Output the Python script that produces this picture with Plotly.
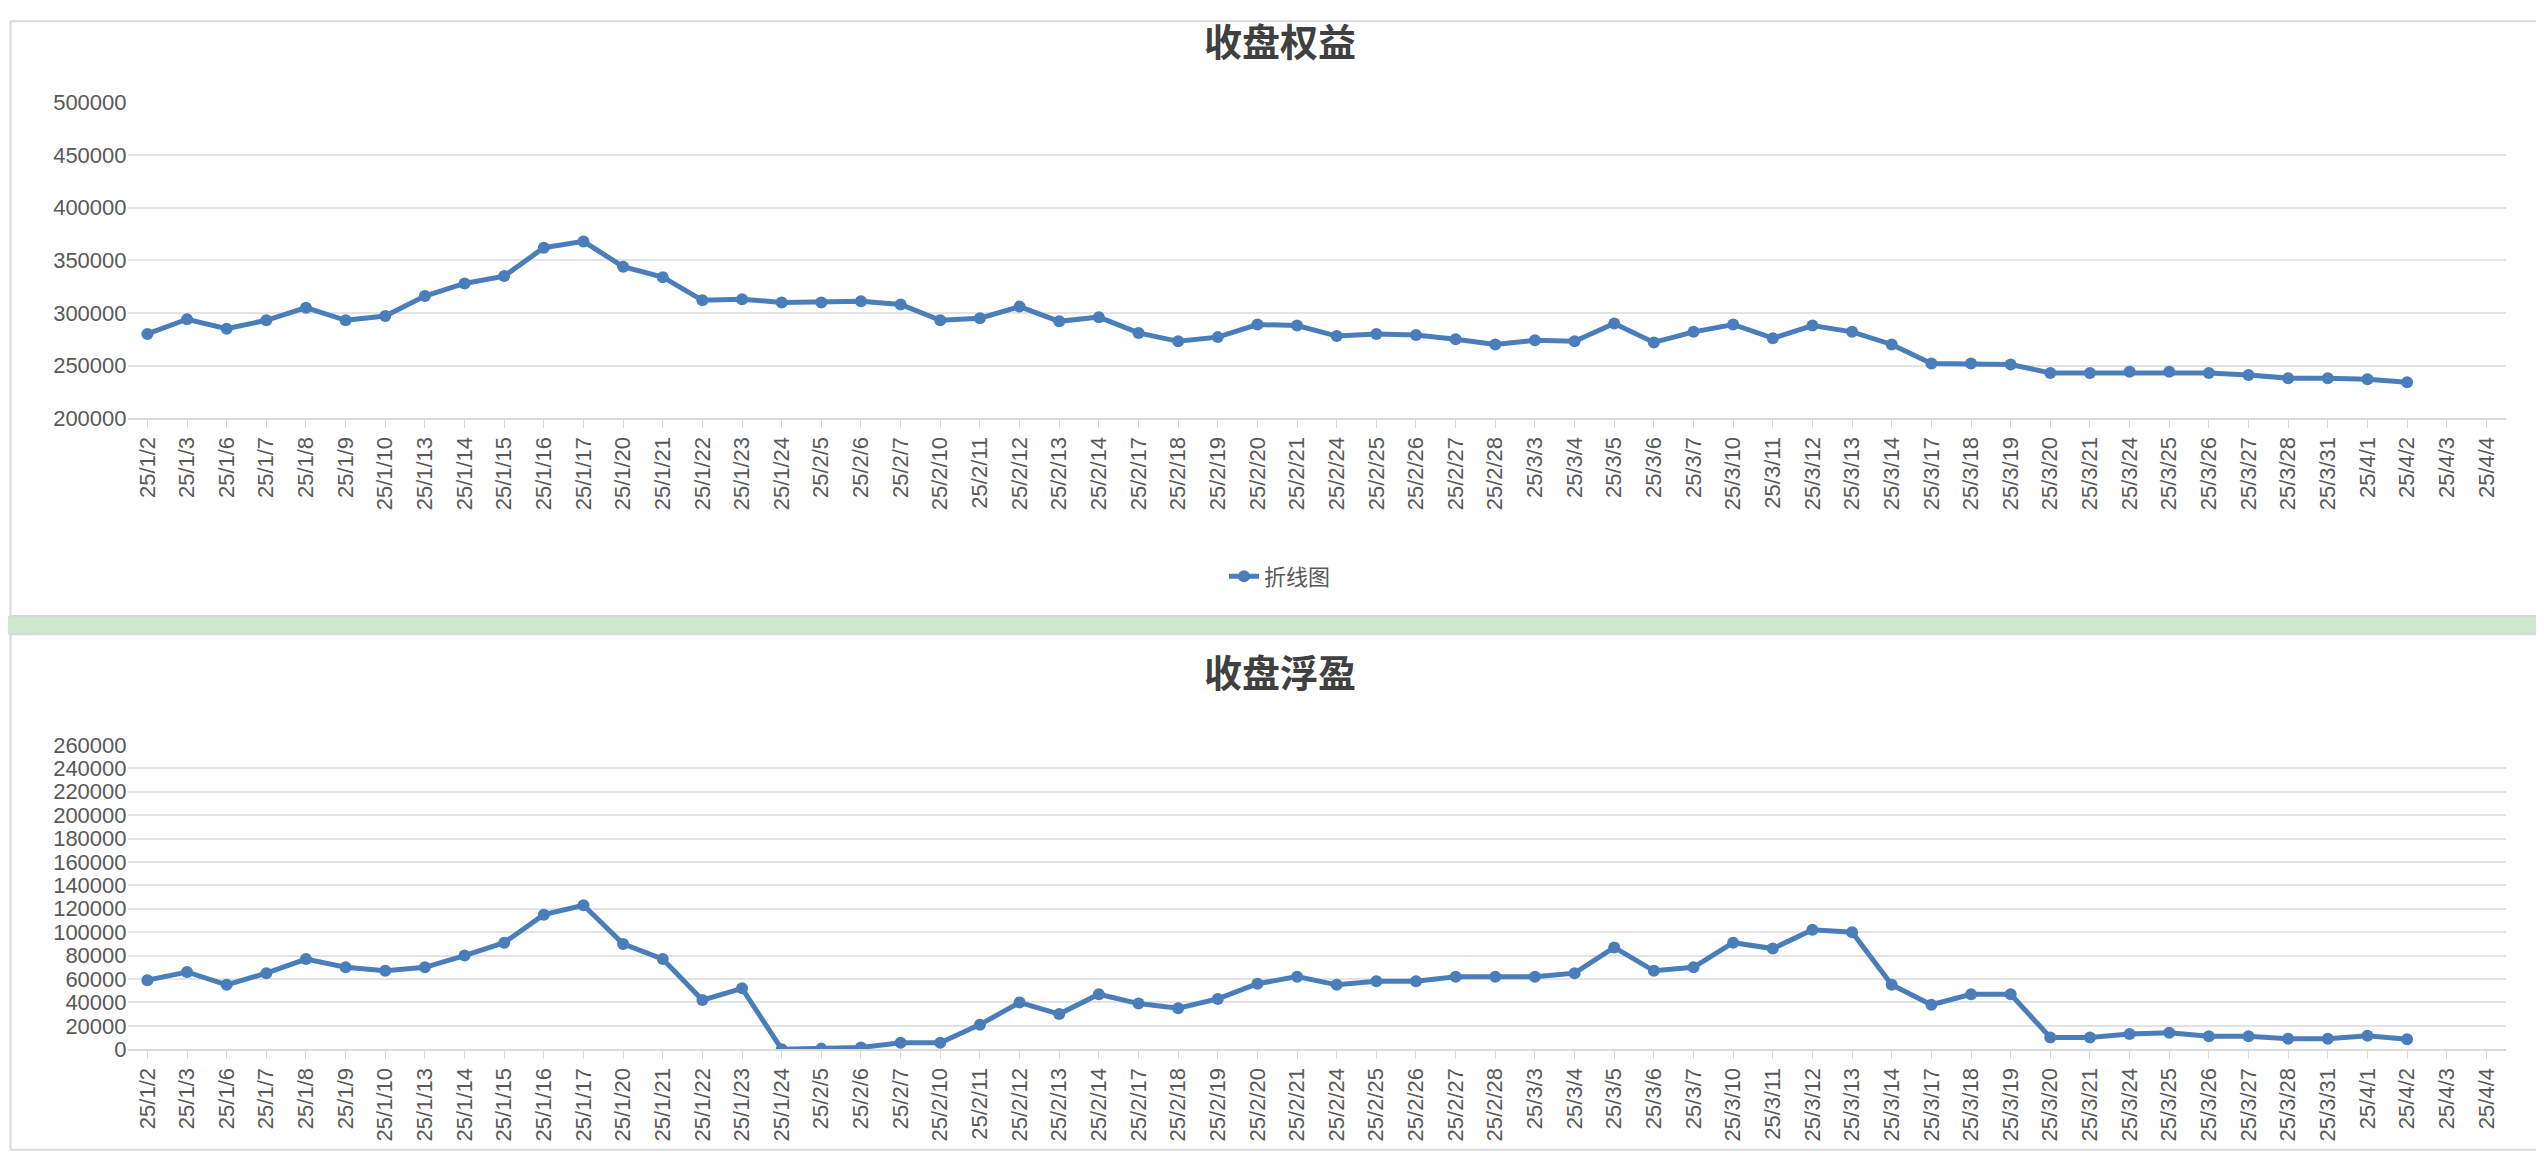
import plotly.graph_objects as go

dates = ["25/1/2", "25/1/3", "25/1/6", "25/1/7", "25/1/8", "25/1/9", "25/1/10", "25/1/13", "25/1/14",
         "25/1/15", "25/1/16", "25/1/17", "25/1/20", "25/1/21", "25/1/22", "25/1/23", "25/1/24",
         "25/2/5", "25/2/6", "25/2/7", "25/2/10", "25/2/11", "25/2/12", "25/2/13", "25/2/14",
         "25/2/17", "25/2/18", "25/2/19", "25/2/20", "25/2/21", "25/2/24", "25/2/25", "25/2/26",
         "25/2/27", "25/2/28", "25/3/3", "25/3/4", "25/3/5", "25/3/6", "25/3/7", "25/3/10",
         "25/3/11", "25/3/12", "25/3/13", "25/3/14", "25/3/17", "25/3/18", "25/3/19", "25/3/20",
         "25/3/21", "25/3/24", "25/3/25", "25/3/26", "25/3/27", "25/3/28", "25/3/31", "25/4/1",
         "25/4/2", "25/4/3", "25/4/4"]

equity = [280000, 294000, 285000, 293000, 305000, 293000, 297000, 316000, 328000, 335000,
          362000, 368000, 344000, 334000, 312000, 313000, 310000, 310000, 311000, 308000,
          293000, 295000, 306000, 292000, 296000, 281000, 273000, 277000, 289000, 288000,
          278000, 280000, 279000, 275000, 270000, 274000, 273000, 290000, 272000, 282000,
          289000, 276000, 288000, 282000, 270000, 252000, 252000, 251000, 243000, 243000,
          244000, 244000, 243000, 241000, 238000, 238000, 237000, 234000]

floating = [59000, 66000, 55000, 65000, 77000, 70000, 67000, 70000, 80000, 91000,
            115000, 123000, 90000, 77000, 42000, 52000, 0, 500, 1500, 5500,
            5500, 21000, 40000, 30000, 47000, 39000, 35000, 43000, 56000, 62000,
            55000, 58000, 58000, 62000, 62000, 62000, 65000, 87000, 67000, 70000,
            91000, 86000, 102000, 100000, 55000, 38000, 47000, 47000, 10000, 10000,
            13000, 14000, 11000, 11000, 9000, 9000, 11500, 8500]

blue = "#4a7ebb"
font = "Liberation Sans, Arial, sans-serif"

fig = go.Figure()
fig.add_trace(go.Scatter(x=dates[:len(equity)], y=equity, mode="lines+markers", name="折线图",
                         line=dict(color=blue, width=5), marker=dict(size=12, color=blue),
                         xaxis="x", yaxis="y"))
fig.add_trace(go.Scatter(x=dates[:len(floating)], y=floating, mode="lines+markers", name="折线图",
                         line=dict(color=blue, width=5), marker=dict(size=12, color=blue),
                         xaxis="x2", yaxis="y2", showlegend=False))

xcommon = dict(type="category", categoryorder="array", categoryarray=dates,
               tickangle=-90, tickfont=dict(size=22, color="#595959", family=font),
               showgrid=False, showline=True, linecolor="#d9d9d9", linewidth=2,
               ticks="outside", ticklen=8, tickcolor="#d9d9d9", range=[-0.5, len(dates) - 0.5],
               domain=[0.047, 0.982])
ycommon = dict(showgrid=True, gridcolor="#e3e3e3", gridwidth=2, zeroline=False, tickformat="d",
               tickfont=dict(size=22, color="#595959", family=font), ticks="", showline=False)

fig.update_layout(
    width=2544, height=1156,
    paper_bgcolor="white", plot_bgcolor="white",
    margin=dict(l=0, r=0, t=0, b=0),
    xaxis=dict(xcommon, anchor="y"),
    yaxis=dict(ycommon, domain=[0.648, 0.927], range=[200000, 500000], dtick=50000),
    xaxis2=dict(xcommon, anchor="y2"),
    yaxis2=dict(ycommon, domain=[0.09, 0.359], range=[0, 260000], dtick=20000),
    legend=dict(orientation="h", x=0.5, xanchor="center", y=0.508, yanchor="middle",
                font=dict(size=22, color="#595959", family="Noto Sans CJK SC")),
    annotations=[
        dict(text="<b>收盘权益</b>", x=0.5, y=0.983, yanchor="middle", xref="paper", yref="paper",
             showarrow=False, font=dict(size=38, color="#404040", family="Noto Sans CJK SC")),
        dict(text="<b>收盘浮盈</b>", x=0.5, y=0.425, yanchor="middle", xref="paper", yref="paper",
             showarrow=False, font=dict(size=38, color="#404040", family="Noto Sans CJK SC")),
    ],
    shapes=[
        dict(type="rect", xref="paper", yref="paper", x0=0, x1=1, y0=0.457, y1=0.473,
             fillcolor="#cfe8d0", line=dict(width=0), layer="below"),
        dict(type="rect", xref="paper", yref="paper", x0=0.001, x1=0.999, y0=0.473, y1=0.999,
             line=dict(color="#d9d9d9", width=2)),
        dict(type="rect", xref="paper", yref="paper", x0=0.001, x1=0.999, y0=0.001, y1=0.457,
             line=dict(color="#d9d9d9", width=2)),
    ],
)

fig.write_html("out.html")
